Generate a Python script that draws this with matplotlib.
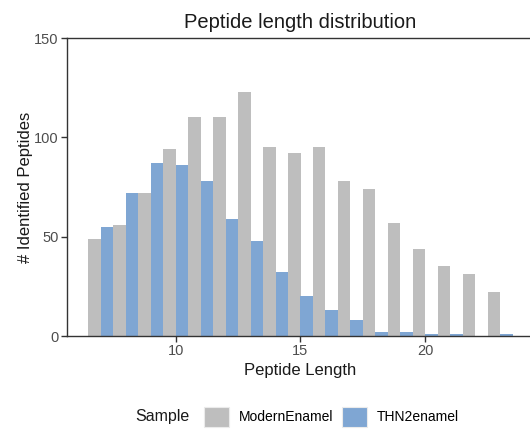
import matplotlib
matplotlib.use("Agg")
import matplotlib.pyplot as plt
import matplotlib.patches as mpatches
import numpy as np

plt.rcParams['font.family'] = ['Liberation Sans', 'DejaVu Sans']

# Peptide counts per length for each sample
lengths = np.arange(7, 24)
modern_enamel = [49, 56, 72, 94, 110, 110, 123, 95, 92, 95, 78, 74, 57, 44, 35, 31, 22]
thn2_enamel = [55, 72, 87, 86, 78, 59, 48, 32, 20, 13, 8, 2, 2, 1, 1, 0, 1]
sample_names = ["ModernEnamel", "THN2enamel"]
sample_colors = ["#BEBEBE", "#7FA6D3"]
x_ticks = [10, 15, 20]
y_ticks = [0, 50, 100, 150]

W, H = 530, 432
fig = plt.figure(figsize=(W / 100, H / 100), dpi=100)
# panel spans slightly past the right edge of the canvas
left, right, top, bottom = 67, 534, 38, 336
ax = fig.add_axes([left / W, 1 - bottom / H, (right - left) / W, (bottom - top) / H])

bw = 0.5
ax.bar(lengths - bw / 2, modern_enamel, width=bw, color=sample_colors[0], linewidth=0)
ax.bar(lengths + bw / 2, thn2_enamel, width=bw, color=sample_colors[1], linewidth=0)

xmin, xmax = lengths[0] - 0.5, lengths[-1] + 0.5
pad = 0.05 * (xmax - xmin)
ax.set_xlim(xmin - pad, xmax + pad)
ax.set_ylim(0, 150)
ax.set_xticks(x_ticks)
ax.set_yticks(y_ticks)

for side in ["left", "bottom", "top"]:
    ax.spines[side].set_color("#333333")
    ax.spines[side].set_linewidth(1.0)
ax.spines["right"].set_visible(False)
ax.tick_params(axis="both", colors="#333333", labelcolor="#4D4D4D",
               labelsize=10.5, length=4, width=1.0, pad=2)

ax.set_xlabel("Peptide Length", fontsize=12, color="#1A1A1A", labelpad=3)
ax.set_ylabel("# Identified Peptides", fontsize=12, color="#1A1A1A", labelpad=1)
ax.set_title("Peptide length distribution", fontsize=14.5, color="#1A1A1A", pad=7)

handles = [mpatches.Patch(facecolor=c, edgecolor="#EBEBEB", linewidth=0.8) for c in sample_colors]
fig.legend(handles, sample_names, loc="center left", ncol=2, frameon=False,
           fontsize=10, handlelength=1.8, handleheight=1.8, handletextpad=0.72,
           columnspacing=0.65, bbox_to_anchor=(198 / W, 1 - 417 / H), borderaxespad=0)
fig.text(135 / W, 1 - 417 / H, "Sample", fontsize=11.5, color="#1A1A1A", va="center", ha="left")

fig.savefig("out.png", dpi=100)
